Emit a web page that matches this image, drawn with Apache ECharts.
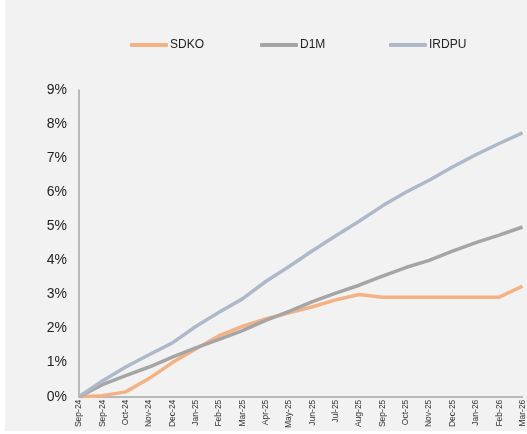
<!DOCTYPE html>
<html>
<head>
<meta charset="utf-8">
<script src="https://cdn.jsdelivr.net/npm/echarts@6/dist/echarts.min.js"></script>
<style>
  html, body { margin: 0; padding: 0; background: #ffffff; }
  #chart { position: absolute; left: 5px; top: 0; width: 522px; height: 431px; background: #f2f2f2; }
</style>
</head>
<body>
<div id="chart"></div>
<script>
// months on the x axis (first label repeats in the source)
var months = ['Sep-24', 'Sep-24', 'Oct-24', 'Nov-24', 'Dec-24', 'Jan-25', 'Feb-25', 'Mar-25', 'Apr-25', 'May-25',
  'Jun-25', 'Jul-25', 'Aug-25', 'Sep-25', 'Oct-25', 'Nov-25', 'Dec-25', 'Jan-26', 'Feb-26', 'Mar-26'];

// cumulative values, in %
var sdko = [0, 0.03, 0.14, 0.53, 1.0, 1.4, 1.79, 2.06, 2.28, 2.46, 2.64, 2.84, 3.0, 2.92, 2.92, 2.92, 2.92, 2.92, 2.92, 3.24];
var d1m = [0, 0.35, 0.62, 0.87, 1.16, 1.43, 1.68, 1.94, 2.24, 2.5, 2.79, 3.04, 3.27, 3.54, 3.79, 4.0, 4.27, 4.52, 4.74, 4.98];
var irdpu = [0, 0.46, 0.87, 1.23, 1.58, 2.06, 2.48, 2.87, 3.38, 3.82, 4.28, 4.72, 5.15, 5.6, 6.0, 6.35, 6.74, 7.1, 7.43, 7.74];

var seriesNames = ['SDKO', 'D1M', 'IRDPU'];
var seriesColors = ['#f4b183', '#a5a5a5', '#adb9ca'];
var seriesData = [sdko, d1m, irdpu];
var legendLeft = [120, 250, 379];

var myChart = echarts.init(document.getElementById('chart'));

var series = [];
var legends = [];
for (var i = 0; i < seriesNames.length; i++) {
  series.push({
    name: seriesNames[i],
    type: 'line',
    data: seriesData[i],
    symbol: 'none',
    lineStyle: { width: 3.5, color: seriesColors[i] },
    itemStyle: { color: seriesColors[i] }
  });
  // one legend per item so the spacing is even like the source
  legends.push({
    top: 34,
    left: legendLeft[i],
    itemWidth: 38,
    itemHeight: 4,
    icon: 'roundRect',
    textStyle: { fontSize: 12, color: '#222', padding: [0, 0, 0, -3] },
    data: [seriesNames[i]]
  });
}

var option = {
  animation: false,
  textStyle: { fontFamily: 'Liberation Sans' },
  legend: legends,
  grid: {
    left: 74,
    right: 0,
    top: 90,
    bottom: 32,
    containLabel: false
  },
  xAxis: {
    type: 'category',
    boundaryGap: false,
    data: months,
    axisLine: { lineStyle: { color: '#a6a6a6', width: 1.5 } },
    axisTick: { show: false },
    axisLabel: {
      rotate: 90,
      interval: 0,
      fontSize: 8.5,
      color: '#333',
      margin: 3
    }
  },
  yAxis: {
    type: 'value',
    min: 0,
    max: 9,
    interval: 1,
    axisLine: { show: true, lineStyle: { color: '#a6a6a6', width: 1.5 } },
    axisTick: { show: false },
    splitLine: { show: false },
    axisLabel: {
      fontSize: 14,
      color: '#222',
      margin: 12,
      formatter: function (v) { return v + '%'; }
    }
  },
  series: series
};
myChart.setOption(option);
</script>
</body>
</html>
